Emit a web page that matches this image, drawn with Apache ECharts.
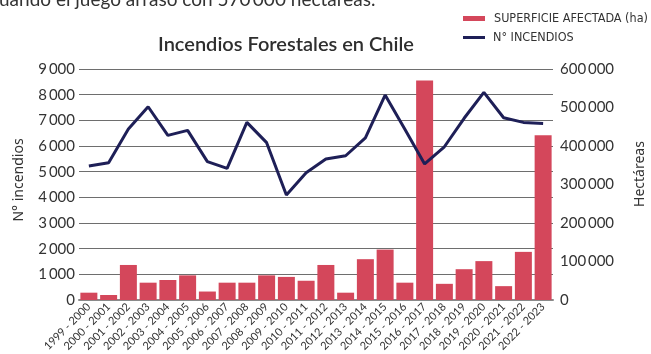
<!DOCTYPE html>
<html>
<head>
<meta charset="utf-8">
<script src="https://cdn.jsdelivr.net/npm/echarts@6/dist/echarts.min.js"></script>
<style>
  html, body { margin: 0; padding: 0; background: #ffffff; }
  #chart { width: 651px; height: 354px; }
</style>
</head>
<body>
<div id="chart"></div>
<script>
// Temporadas de incendios forestales en Chile
const temporadas = [
  '1999 - 2000', '2000 - 2001', '2001 - 2002', '2002 - 2003', '2003 - 2004', '2004 - 2005',
  '2005 - 2006', '2006 - 2007', '2007 - 2008', '2008 - 2009', '2009 - 2010', '2010 - 2011',
  '2011 - 2012', '2012 - 2013', '2013 - 2014', '2014 - 2015', '2015 - 2016', '2016 - 2017',
  '2017 - 2018', '2018 - 2019', '2019 - 2020', '2020 - 2021', '2021 - 2022', '2022 - 2023'
];

// Superficie afectada por temporada (ha)
const superficie = [
  19000, 13000, 91000, 45000, 52000, 64000, 22000, 45000, 45000, 64000, 60000, 50000,
  91000, 19000, 106000, 131000, 45000, 570000, 42000, 80000, 101000, 36000, 125000, 428000
];

// Número de incendios por temporada
const incendios = [
  5220, 5350, 6660, 7530, 6415, 6610, 5390, 5130, 6920, 6130, 4090, 4960,
  5490, 5620, 6320, 7985, 6650, 5300, 5970, 7080, 8090, 7100, 6920, 6880
];

const nombreSuperficie = 'SUPERFICIE AFECTADA (ha)';
const nombreIncendios = 'N° INCENDIOS';

const miles = v => String(v).replace(/\B(?=(\d{3})+(?!\d))/g, '\u2009');

const textColor = '#333333';
const mainFont = 'Lato, "Noto Sans", sans-serif';
const legendFont = '"Liberation Sans Narrow", "DejaVu Sans Condensed", sans-serif';

const chart = echarts.init(document.getElementById('chart'), null, { renderer: 'canvas' });

chart.setOption({
  animation: false,
  backgroundColor: '#ffffff',
  grid: { left: 79, right: 98, top: 69, bottom: 54, containLabel: false },
  graphic: [
    {
      type: 'text', left: -1, top: -10,
      style: { text: 'uando el juego arrasó con 570\u2009000 hectáreas.', font: '19px ' + mainFont, fill: textColor }
    },
    {
      type: 'text', x: 286, y: 45,
      style: { text: 'Incendios Forestales en Chile', font: '600 20px ' + mainFont, fill: '#2e2e2e', align: 'center', verticalAlign: 'middle' }
    },
    {
      type: 'text', x: 19, y: 180, rotation: Math.PI / 2,
      style: { text: 'N° incendios', font: '14px "Noto Sans", sans-serif', fill: textColor, align: 'center', verticalAlign: 'middle' }
    },
    {
      type: 'text', x: 640, y: 174, rotation: Math.PI / 2,
      style: { text: 'Hectáreas', font: '14px "Noto Sans", sans-serif', fill: textColor, align: 'center', verticalAlign: 'middle' }
    }
  ],
  legend: [
    {
      data: [{ name: nombreSuperficie, icon: 'rect' }],
      left: 463, top: 12, itemWidth: 22, itemHeight: 5, padding: 0,
      textStyle: { fontSize: 12.5, color: textColor, fontFamily: legendFont, padding: [0, 0, 0, 4] }
    },
    {
      data: [{ name: nombreIncendios, icon: 'rect', itemStyle: { color: '#1e1f57' } }],
      left: 463, top: 31, itemWidth: 22, itemHeight: 3, padding: 0,
      textStyle: { fontSize: 12.5, color: textColor, fontFamily: legendFont, padding: [0, 0, 0, 3] }
    }
  ],
  xAxis: {
    type: 'category',
    data: temporadas,
    axisLine: { show: true, lineStyle: { color: '#8a8a8a', width: 2 } },
    axisTick: { show: false },
    axisLabel: { rotate: 45, interval: 0, fontSize: 11, color: textColor, fontFamily: mainFont, margin: 5 }
  },
  yAxis: [
    {
      type: 'value', min: 0, max: 9000, interval: 1000, position: 'left',
      axisLine: { show: false }, axisTick: { show: false },
      axisLabel: { formatter: miles, fontSize: 15, color: textColor, fontFamily: mainFont, margin: 4 },
      splitLine: { lineStyle: { color: '#6e6e6e', width: 1 } }
    },
    {
      type: 'value', min: 0, max: 600000, interval: 100000, position: 'right',
      axisLine: { show: false }, axisTick: { show: false },
      axisLabel: { formatter: miles, fontSize: 15, color: textColor, fontFamily: mainFont, margin: 7 },
      splitLine: { show: false }
    }
  ],
  series: [
    {
      name: nombreSuperficie,
      type: 'bar',
      yAxisIndex: 1,
      data: superficie,
      barCategoryGap: '14%',
      itemStyle: { color: '#d4475b' },
      z: 2
    },
    {
      name: nombreIncendios,
      type: 'line',
      yAxisIndex: 0,
      data: incendios,
      symbol: 'none',
      lineStyle: { color: '#1e1f57', width: 3 },
      itemStyle: { color: '#1e1f57' },
      z: 3
    }
  ]
});
</script>
</body>
</html>
